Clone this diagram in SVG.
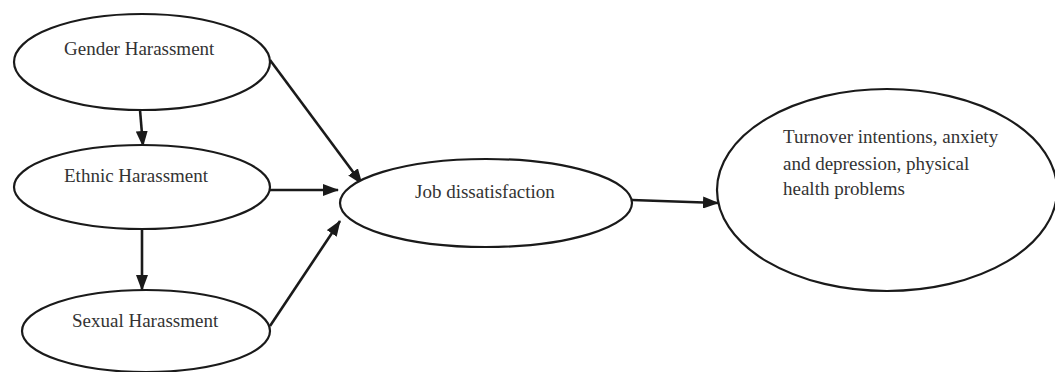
<svg xmlns="http://www.w3.org/2000/svg" width="1055" height="372" viewBox="0 0 1055 372">
<style>
.node{fill:#fff;stroke:#1a1a1a;stroke-width:2.2}
.lbl{font-family:"Liberation Serif","Times New Roman",serif;font-size:19px;fill:#333}
.edge{stroke:#1a1a1a;stroke-width:2.6;fill:none;marker-end:url(#ah)}
</style>
<defs>
<marker id="ah" markerWidth="16" markerHeight="12" refX="15" refY="6" orient="auto" markerUnits="userSpaceOnUse">
<path d="M0,0 L16,6 L0,12 Z" fill="#1a1a1a"/>
</marker>
</defs>
<rect width="1055" height="372" fill="#fff"/>
<g id="connectors">
<path class="edge" d="M270,60 L362,184"/>
<path class="edge" d="M140,110 L143,146"/>
<path class="edge" d="M270,190 L338,190"/>
<path class="edge" d="M142,228 L142,290"/>
<path class="edge" d="M270,326 L340,221"/>
<path class="edge" d="M632,200 L718,203"/>
</g>
<g id="gender">
<ellipse class="node" cx="142" cy="62" rx="128" ry="48"/>
<text class="lbl" x="64" y="55">Gender Harassment</text>
</g>
<g id="ethnic">
<ellipse class="node" cx="142" cy="187" rx="128" ry="42"/>
<text class="lbl" x="64" y="182">Ethnic Harassment</text>
</g>
<g id="sexual">
<ellipse class="node" cx="146" cy="331" rx="124" ry="41"/>
<text class="lbl" x="72" y="327">Sexual Harassment</text>
</g>
<g id="job">
<ellipse class="node" cx="486" cy="203" rx="146" ry="44"/>
<text class="lbl" x="415" y="198">Job dissatisfaction</text>
</g>
<g id="outcomes">
<ellipse class="node" cx="887" cy="190" rx="170" ry="101"/>
<text class="lbl" x="783" y="143">Turnover intentions, anxiety</text>
<text class="lbl" x="783" y="170">and depression, physical</text>
<text class="lbl" x="783" y="195">health problems</text>
</g>
</svg>
